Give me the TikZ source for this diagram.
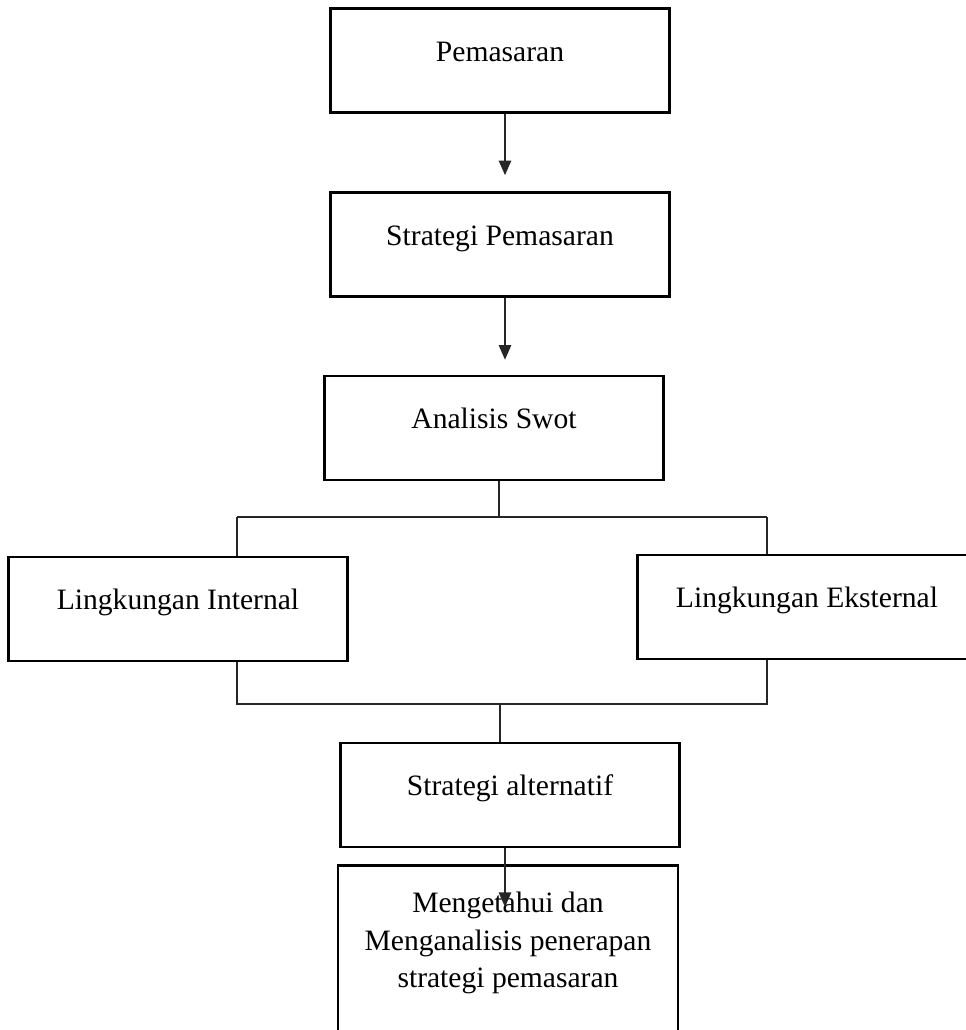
\documentclass[tikz,border=0pt]{standalone}
\usepackage{fontspec}
\setmainfont{Liberation Serif}
\usetikzlibrary{arrows.meta}

\begin{document}
\begin{tikzpicture}[
    x=0.48pt, y=-0.48pt,
    box/.style={rectangle, draw=black, line width=1.2pt, fill=white,
        minimum width=162.5pt, minimum height=50pt,
        font=\fontsize{14.2pt}{17.5pt}\selectfont,
        text height=10.5pt, text depth=10pt},
    longbox/.style={rectangle, draw=black, line width=1.2pt, fill=white,
        minimum width=163.2pt, inner ysep=13pt, align=center,
        font=\fontsize{14.2pt}{18pt}\selectfont},
    link/.style={line width=0.6pt, draw=black!85},
    arr/.style={-{Triangle[length=7pt, width=6pt]}, line width=0.6pt, draw=black!85}
]
    \fill[white] (0,0) rectangle (965,1030);
    \useasboundingbox (0,0) rectangle (965,1030);

    % Main column
    \node[box] (pem) at (500,60.5) {Pemasaran};
    \node[box] (strat) at (500,244.5) {Strategi Pemasaran};
    \node[box] (swot) at (494,428) {Analisis Swot};

    % Environments
    \node[box] (intl) at (178,609) {Lingkungan Internal};
    \node[box] (extl) at (807,607) {Lingkungan Eksternal};

    % Result
    \node[box] (alt) at (510,795) {Strategi alternatif};
    \node[longbox, anchor=north] (know) at (508,864)
        {Mengetahui dan\\ Menganalisis penerapan\\ strategi pemasaran\\ \rule{0pt}{40pt}};

    % Arrows
    \draw[arr, shorten >=7.7pt] ([xshift=2.4pt]pem.south) -- ([xshift=2.4pt]pem.south |- strat.north);
    \draw[arr, shorten >=7.2pt] ([xshift=2.4pt]strat.south) -- ([xshift=2.4pt]strat.south |- swot.north);

    % Split to environments
    \coordinate (split) at (499,517);
    \coordinate (sl) at (237,517);
    \coordinate (sr) at (767,517);
    \draw[link] (swot.south -| split) -- (split);
    \draw[link] (sl) -- (sr);
    \draw[link] (sl) -- (intl.north -| sl);
    \draw[link] (sr) -- (extl.north -| sr);

    % Join to alternatives
    \coordinate (jl) at (237,704);
    \coordinate (jr) at (767,704);
    \coordinate (join) at (500,704);
    \draw[link] (intl.south -| jl) -- (jl) -- (jr) -- (extl.south -| jr);
    \draw[link] (join) -- (alt.north -| join);

    \coordinate (tip) at (505,907);
    \draw[arr] (alt.south -| tip) -- (tip);
\end{tikzpicture}
\end{document}
